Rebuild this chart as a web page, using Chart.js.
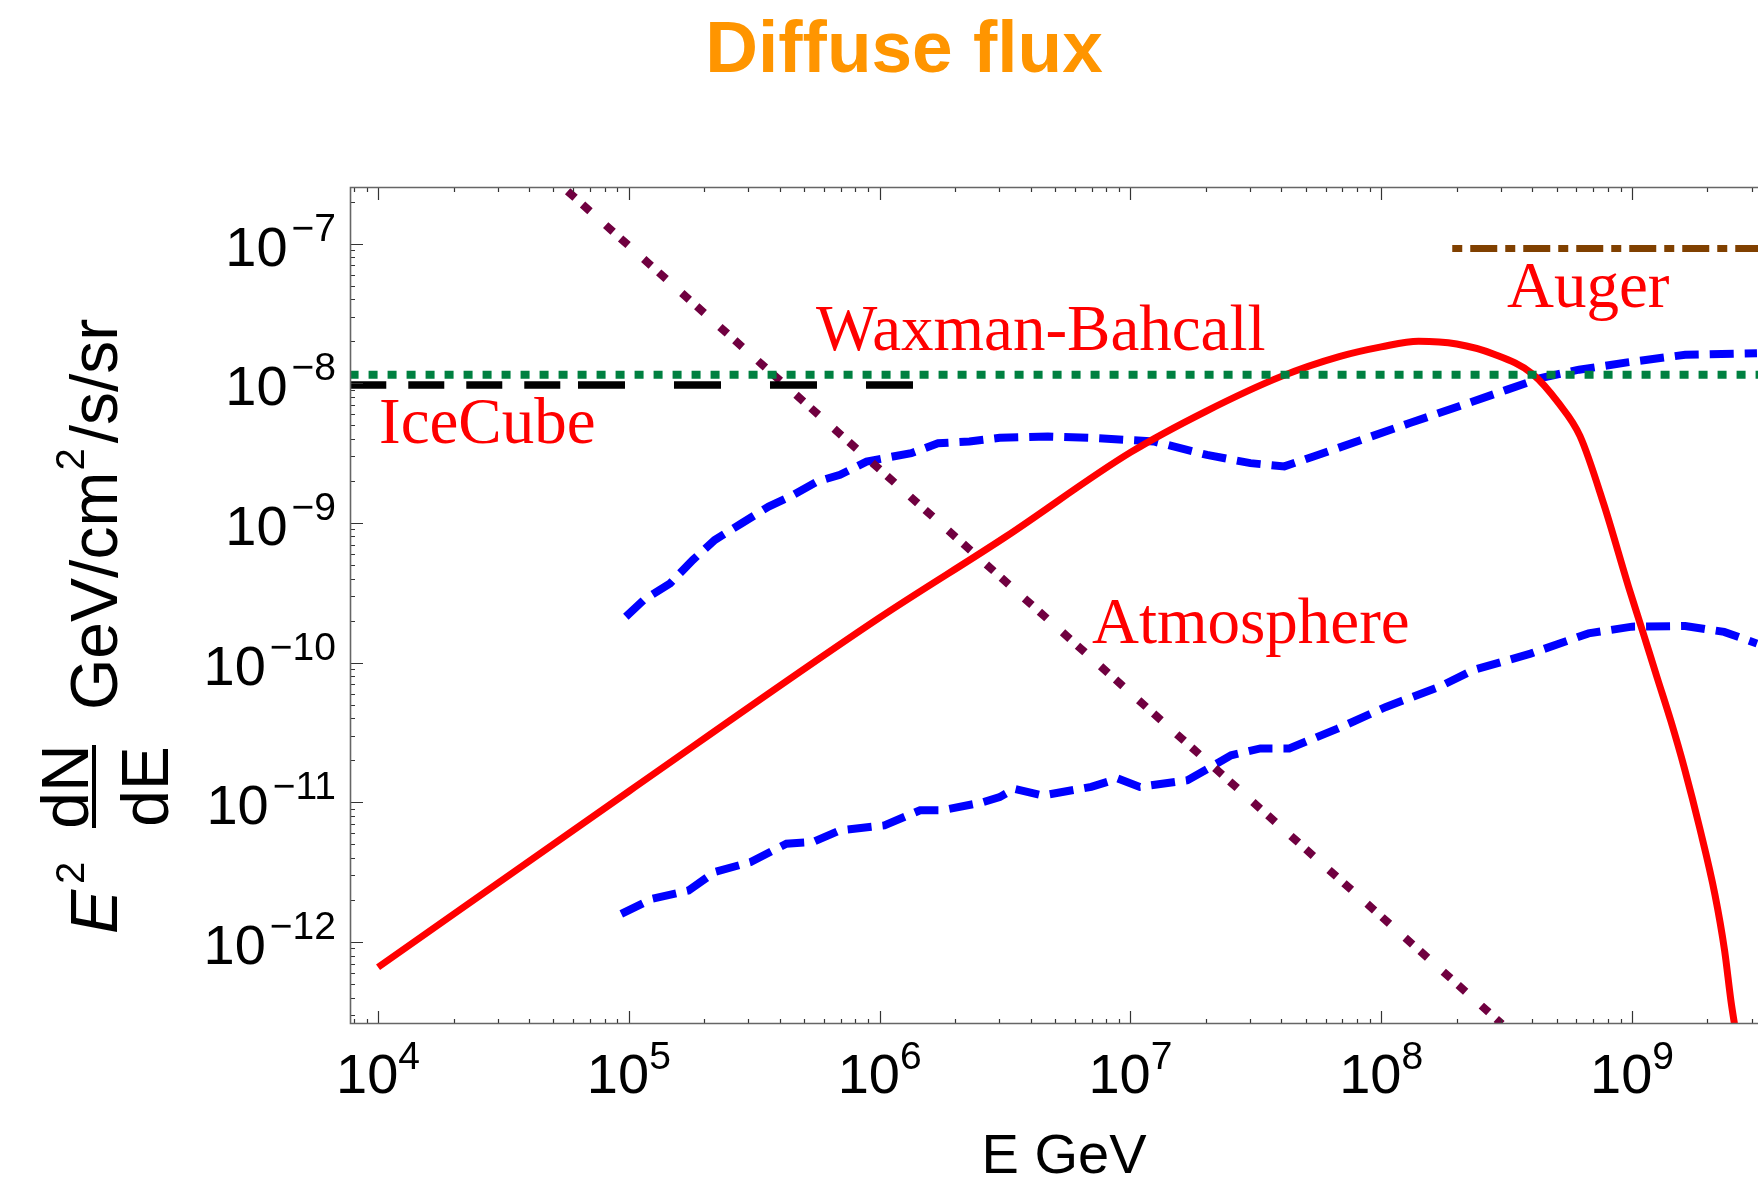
<!DOCTYPE html>
<html>
<head>
<meta charset="utf-8">
<title>Diffuse flux</title>
<script src="https://cdn.jsdelivr.net/npm/chart.js@4.4.1/dist/chart.umd.min.js"></script>
<style>
  html, body { margin: 0; padding: 0; background: #fff; }
  #wrap { width: 1758px; height: 1179px; }
</style>
</head>
<body>
<div id="wrap"><canvas id="fluxChart" width="1758" height="1179"></canvas></div>
<script>
// axis ranges and tick labels (powers of ten)
const xRange = [7.73e3, 3.18e9];
const yRange = [2.59e-13, 2.54e-7];
const xTickExps = [4, 5, 6, 7, 8, 9];
const yTickExps = [-7, -8, -9, -10, -11, -12];

// red solid model
const modelE = [1e4, 1e5, 1e6, 3.16e6, 1e7, 2.0e7, 4.0e7, 6.8e7, 1e8, 1.41e8, 2.0e8, 2.8e8, 4.0e8,
                5.1e8, 6.2e8, 7.7e8, 9.7e8, 1.1e9, 1.26e9, 1.43e9, 1.62e9, 1.86e9, 2.14e9, 2.34e9, 2.48e9, 2.57e9];
const modelFlux = [6.6e-13, 1.2e-11, 2.1e-10, 7.9e-10, 3.2e-9, 6.3e-9, 1.12e-8, 1.55e-8, 1.82e-8, 2.0e-8, 1.91e-8, 1.62e-8, 1.17e-8,
                   7.2e-9, 4.2e-9, 1.38e-9, 3.47e-10, 1.70e-10, 7.8e-11, 3.8e-11, 1.74e-11, 6.6e-12, 2.2e-12, 8.7e-13, 3.8e-13, 2.5e-13];

// atmospheric (dotted)
const atmE = [5.7e4, 3.03e8];
const atmFlux = [2.37e-7, 2.59e-13];

// Waxman-Bahcall (green dotted)
const wbE = [7.7e3, 3.2e9];
const wbFlux = [1.15e-8, 1.15e-8];

// IceCube (black dashed)
const icecubeE = [7.75e3, 6.27e4, 1.37e6];
const icecubeFlux = [9.7e-9, 9.7e-9, 9.7e-9];

// Auger (brown dot-dash)
const augerE = [1.92e8, 3.2e9];
const augerFlux = [9.2e-8, 9.2e-8];

// blue dashed, upper
const upperE = [9.73e4, 1.146e5, 1.462e5, 1.80e5, 2.20e5, 2.82e5, 3.61e5, 4.42e5, 5.65e5, 6.95e5, 8.87e5, 1.045e6,
                1.337e6, 1.71e6, 2.28e6, 3.01e6, 4.69e6, 7.29e6, 1.24e7, 2.02e7, 3.01e7, 4.11e7, 5.37e7, 8.36e7,
                1.30e8, 2.03e8, 3.16e8, 4.32e8, 6.15e8, 9.57e8, 1.63e9, 3.15e9];
const upperFlux = [2.13e-10, 2.81e-10, 3.70e-10, 5.43e-10, 7.55e-10, 9.95e-10, 1.31e-9, 1.55e-9, 1.98e-9, 2.21e-9, 2.75e-9, 2.91e-9,
                   3.16e-9, 3.72e-9, 3.83e-9, 4.07e-9, 4.16e-9, 4.05e-9, 3.83e-9, 3.07e-9, 2.68e-9, 2.54e-9, 2.99e-9, 3.94e-9,
                   5.19e-9, 6.82e-9, 8.97e-9, 1.09e-8, 1.25e-8, 1.41e-8, 1.60e-8, 1.64e-8];

// blue dashed, lower
const lowerE = [9.33e4, 1.24e5, 1.73e5, 2.20e5, 3.06e5, 4.25e5, 5.43e5, 6.95e5, 1.045e6, 1.45e6, 1.78e6, 2.57e6,
                3.01e6, 3.44e6, 4.48e6, 6.98e6, 8.91e6, 1.09e7, 1.69e7, 2.52e7, 3.30e7, 4.30e7, 6.70e7, 1.045e8,
                1.70e8, 2.32e8, 3.94e8, 6.71e8, 1.00e9, 1.63e9, 2.33e9, 3.15e9];
const lowerFlux = [1.59e-12, 2.04e-12, 2.34e-12, 3.17e-12, 3.74e-12, 5.06e-12, 5.20e-12, 6.30e-12, 6.84e-12, 8.77e-12, 8.77e-12, 1.00e-11,
                   1.09e-11, 1.25e-11, 1.12e-11, 1.29e-11, 1.48e-11, 1.29e-11, 1.44e-11, 2.17e-11, 2.43e-11, 2.43e-11, 3.37e-11, 4.82e-11,
                   6.70e-11, 8.83e-11, 1.16e-10, 1.62e-10, 1.81e-10, 1.83e-10, 1.66e-10, 1.37e-10];

const pts = (xs, ys) => xs.map((v, i) => ({ x: v, y: ys[i] }));

const SANS = '"Liberation Sans", Arial, Helvetica, sans-serif';
const SERIF = '"Liberation Serif", "Times New Roman", serif';

// frame, inward ticks, tick labels, axis titles and text labels
const decorations = {
    id: 'decorations',
    afterDatasetsDraw(chart) {
        const { ctx, chartArea: a, scales: { x, y } } = chart;
        ctx.save();

        // minor and major ticks
        ctx.strokeStyle = '#333';
        ctx.lineWidth = 1.2;
        ctx.beginPath();
        for (let e = 3; e <= 9; e++) {
            for (let m = 1; m <= 9; m++) {
                const v = m * Math.pow(10, e);
                if (v < xRange[0] || v > xRange[1]) continue;
                const px = Math.round(x.getPixelForValue(v)) + 0.5;
                const len = m === 1 ? 13 : 5;
                ctx.moveTo(px, a.bottom); ctx.lineTo(px, a.bottom - len);
                ctx.moveTo(px, a.top); ctx.lineTo(px, a.top + len);
            }
        }
        for (let e = -13; e <= -7; e++) {
            for (let m = 1; m <= 9; m++) {
                const v = m * Math.pow(10, e);
                if (v < yRange[0] || v > yRange[1]) continue;
                const py = Math.round(y.getPixelForValue(v)) + 0.5;
                const len = m === 1 ? 13 : 5;
                ctx.moveTo(a.left, py); ctx.lineTo(a.left + len, py);
            }
        }
        ctx.stroke();

        // frame (right side is cut off in the original)
        ctx.strokeStyle = '#666';
        ctx.lineWidth = 1.6;
        ctx.beginPath();
        ctx.moveTo(a.right, a.top + 0.5);
        ctx.lineTo(a.left + 0.5, a.top + 0.5);
        ctx.lineTo(a.left + 0.5, a.bottom - 0.5);
        ctx.lineTo(a.right, a.bottom - 0.5);
        ctx.stroke();

        // tick labels 10^n
        ctx.fillStyle = '#000';
        ctx.textBaseline = 'alphabetic';
        ctx.textAlign = 'left';
        const baseFont = '56px ' + SANS;
        const supFont = '39px ' + SANS;
        xTickExps.forEach(n => {
            const px = x.getPixelForValue(Math.pow(10, n));
            const sup = String(n);
            ctx.font = baseFont; const wb = ctx.measureText('10').width;
            ctx.font = supFont; const ws = ctx.measureText(sup).width;
            const left = px - (wb + ws) / 2;
            ctx.font = baseFont; ctx.fillText('10', left, 1093);
            ctx.font = supFont; ctx.fillText(sup, left + wb, 1069);
        });
        yTickExps.forEach(n => {
            const py = y.getPixelForValue(Math.pow(10, n));
            const sup = '\u2212' + String(-n);
            ctx.font = supFont; const ws = ctx.measureText(sup).width;
            ctx.font = baseFont; const wb = ctx.measureText('10').width;
            const right = 336;
            ctx.font = baseFont; ctx.fillText('10', right - ws - 4 - wb, py + 22);
            ctx.font = supFont; ctx.fillText(sup, right - ws, py - 3);
        });

        // x title
        ctx.font = '56px ' + SANS;
        ctx.textAlign = 'center';
        ctx.fillText('E GeV', 1064, 1173);

        // y title, rotated: local (u, v) -> canvas (v, -u)
        ctx.save();
        ctx.rotate(-Math.PI / 2);
        ctx.textAlign = 'left';
        ctx.font = 'italic 66px ' + SANS;
        ctx.fillText('E', -934, 117);
        const wE = ctx.measureText('E').width;
        ctx.font = '40px ' + SANS;
        ctx.fillText('2', -934 + wE + 6, 84);
        ctx.font = '66px ' + SANS;
        ctx.textAlign = 'center';
        ctx.fillText('dN', -786.5, 88);
        ctx.fillText('dE', -786.5, 168);
        ctx.fillRect(-828, 92, 83, 4);
        ctx.textAlign = 'left';
        let u = -710;
        ctx.fillText('GeV/cm', u, 117);
        u += ctx.measureText('GeV/cm').width + 1;
        ctx.font = '40px ' + SANS;
        ctx.fillText('2', u, 84);
        u += ctx.measureText('2').width + 5;
        ctx.font = '66px ' + SANS;
        ctx.fillText('/s/sr', u, 117);
        ctx.restore();

        // title
        ctx.font = 'bold 73px ' + SANS;
        ctx.fillStyle = '#FF9500';
        ctx.textAlign = 'center';
        ctx.fillText('Diffuse flux', 904, 72);

        // curve labels
        ctx.font = '65px ' + SERIF;
        ctx.fillStyle = '#FF0000';
        ctx.textAlign = 'left';
        ctx.fillText('Waxman-Bahcall', 816, 350);
        ctx.fillText('IceCube', 379, 443);
        ctx.fillText('Auger', 1507, 307);
        ctx.fillText('Atmosphere', 1092, 643);

        ctx.restore();
    }
};

const ctx = document.getElementById('fluxChart').getContext('2d');
new Chart(ctx, {
    type: 'line',
    data: {
        datasets: [{
            label: 'Auger',
            data: pts(augerE, augerFlux),
            borderColor: 'rgb(128, 64, 0)',
            borderWidth: 7,
            borderDash: [10, 8, 27, 8]
        }, {
            label: 'IceCube',
            data: pts(icecubeE, icecubeFlux),
            borderColor: '#000',
            borderWidth: 7.5,
            segment: {
                borderDash: c => c.p0DataIndex === 0 ? [36, 22] : [47, 49]
            }
        }, {
            label: 'Waxman-Bahcall',
            data: pts(wbE, wbFlux),
            borderColor: 'rgb(0, 128, 64)',
            borderWidth: 8,
            borderDash: [9, 10]
        }, {
            label: 'Model',
            data: pts(modelE, modelFlux),
            borderColor: '#FF0000',
            borderWidth: 7,
            cubicInterpolationMode: 'monotone'
        }, {
            label: 'Atmosphere',
            data: pts(atmE, atmFlux),
            borderColor: 'rgb(112, 0, 64)',
            borderWidth: 8,
            borderDash: [10, 10, 10, 21]
        }, {
            label: 'Upper',
            data: pts(upperE, upperFlux),
            borderColor: '#0000FF',
            borderWidth: 8,
            borderDash: [24, 11]
        }, {
            label: 'Lower',
            data: pts(lowerE, lowerFlux),
            borderColor: '#0000FF',
            borderWidth: 8,
            borderDash: [24, 11]
        }]
    },
    options: {
        responsive: false,
        animation: false,
        devicePixelRatio: 1,
        layout: { padding: { left: 350, top: 187, right: 0, bottom: 155 } },
        elements: { point: { radius: 0 }, line: { tension: 0, fill: false } },
        datasets: { line: { clip: 0 } },
        scales: {
            x: { type: 'logarithmic', min: xRange[0], max: xRange[1], display: false },
            y: { type: 'logarithmic', min: yRange[0], max: yRange[1], display: false }
        },
        plugins: {
            legend: { display: false },
            tooltip: { enabled: false }
        }
    },
    plugins: [decorations]
});
</script>
</body>
</html>
